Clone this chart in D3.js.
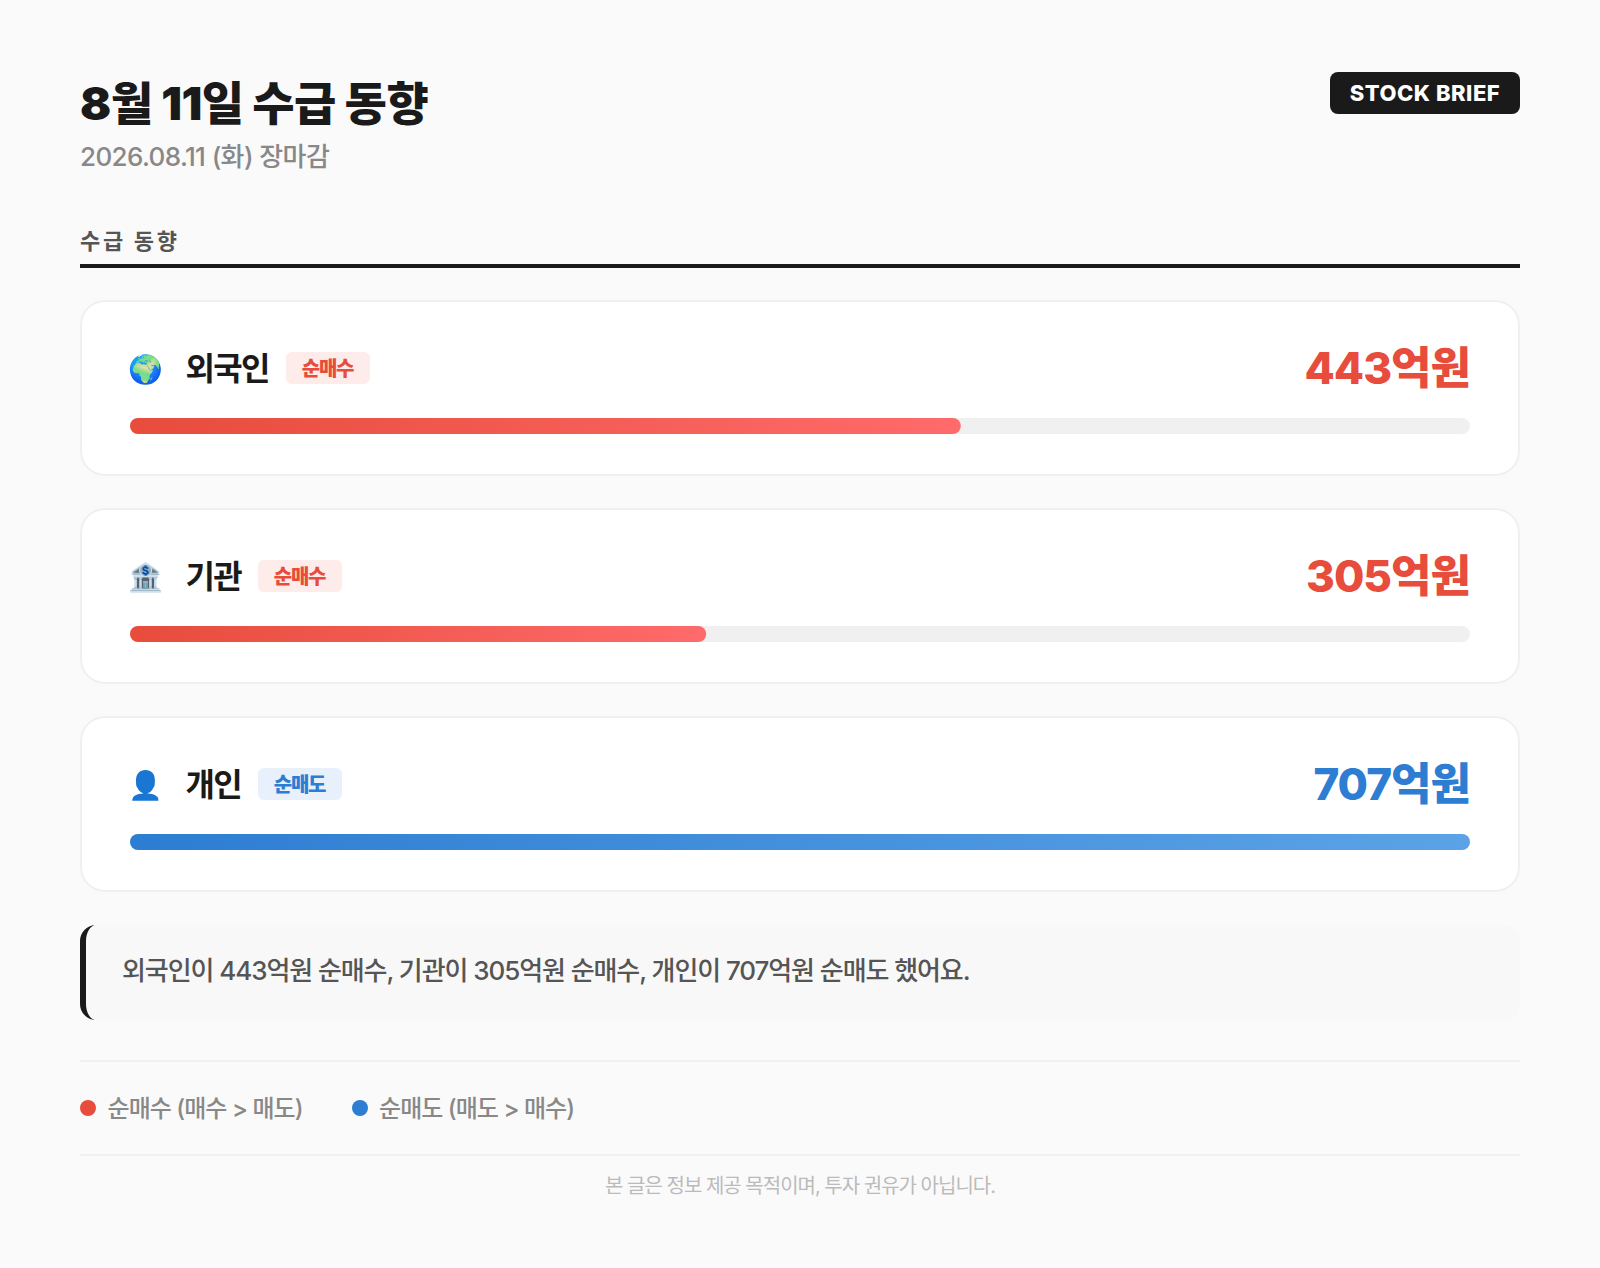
<!DOCTYPE html>
<html><head><meta charset="utf-8">
<script src="https://cdn.jsdelivr.net/npm/d3@7"></script>
<style>html,body{margin:0;padding:0;background:#fafafa}svg{display:block}text{font-family:Inter,"Noto Sans CJK KR",sans-serif}</style>
</head><body><div id="c"></div>
<script>
const categories=["외국인","기관","개인"];
const values=[443,305,707];
const barShares=[62,43,100];
const statuses=["순매수","순매수","순매도"];
const icons=["🌍","🏦","👤"];
const W=1600,H=1268,colors={buy:"#e74c3c",sell:"#2d7dd2"};
const svg=d3.select("#c").append("svg").attr("width",W).attr("height",H);
svg.append("rect").attr("width",W).attr("height",H).attr("fill","#fafafa");
const defs=svg.append("defs");
const g1=defs.append("linearGradient").attr("id","gb");g1.append("stop").attr("offset",0).attr("stop-color","#e74c3c");g1.append("stop").attr("offset",1).attr("stop-color","#ff6b6b");
const g2=defs.append("linearGradient").attr("id","gs");g2.append("stop").attr("offset",0).attr("stop-color","#2d7dd2");g2.append("stop").attr("offset",1).attr("stop-color","#5ba3e6");
const T=(x,y,t,s,w,c,a)=>svg.append("text").attr("x",x).attr("y",y).text(t).attr("font-size",s).attr("font-weight",w).attr("fill",c).attr("text-anchor",a||"start");
T(80,120,"8월 11일 수급 동향",46,900,"#1a1a1a").attr("letter-spacing",-.5);
T(80,166,"2026.08.11 (화) 장마감",26,500,"#888").attr("letter-spacing",-.6);
svg.append("rect").attr("x",1330).attr("y",72).attr("width",190).attr("height",42).attr("rx",8).attr("fill","#1a1a1a");
T(1425,101,"STOCK BRIEF",22,800,"#fff","middle").attr("letter-spacing",.5);
T(80,249,"수급 동향",22,700,"#555").attr("letter-spacing",2.7);
svg.append("rect").attr("x",80).attr("y",264).attr("width",1440).attr("height",4).attr("fill","#1a1a1a");
const x=d3.scaleLinear().domain([0,100]).range([0,1340]);
categories.forEach((c,i)=>{
 const y=301+208*i,buy=statuses[i]==="순매수",col=buy?colors.buy:colors.sell;
 svg.append("rect").attr("x",81).attr("y",y).attr("width",1438).attr("height",174).attr("rx",24).attr("fill","#fff").attr("stroke","#f0f0f0").attr("stroke-width",2);
 T(128,y+78,icons[i],28,400,"#000").style("font-family","'Noto Color Emoji',sans-serif");
 const nm=T(185.5,y+79,c,32,700,"#1a1a1a").attr("letter-spacing",-1.7);
 const nw=nm.node().getComputedTextLength();
 const bx=Math.round(185.5+nw+17);
 svg.append("rect").attr("x",bx).attr("y",y+51).attr("width",84).attr("height",32).attr("rx",6).attr("fill",buy?"#fdecea":"#e8f1fb");
 T(bx+41.5,y+75,statuses[i],20,900,col,"middle").attr("letter-spacing",-1.2);
 T(1470,y+83,values[i]+"억원",44,800,col,"end").attr("letter-spacing",-1);
 svg.append("rect").attr("x",130).attr("y",y+117).attr("width",1340).attr("height",16).attr("rx",8).attr("fill","#f0f0f0");
 svg.append("rect").attr("x",130).attr("y",y+117).attr("width",x(barShares[i])).attr("height",16).attr("rx",8).attr("fill",buy?"url(#gb)":"url(#gs)");
});
svg.append("path").attr("d","M96 925 A16 16 0 0 0 80 941 V1004 A16 16 0 0 0 96 1020 H1506 A14 14 0 0 0 1520 1006 V939 A14 14 0 0 0 1506 925 Z").attr("fill","#f8f8f8");
svg.append("path").attr("d","M96 925 A16 16 0 0 0 80 941 V1004 A16 16 0 0 0 96 1020 A10 16 0 0 1 86 1004 V941 A10 16 0 0 1 96 925 Z").attr("fill","#1a1a1a");
T(122,980,`${categories[0]}이 ${values[0]}억원 ${statuses[0]}, ${categories[1]}이 ${values[1]}억원 ${statuses[1]}, ${categories[2]}이 ${values[2]}억원 ${statuses[2]} 했어요.`,26,500,"#555").attr("letter-spacing",-1.08);
svg.append("rect").attr("x",80).attr("y",1060).attr("width",1440).attr("height",2).attr("fill","#f0f0f0");
svg.append("circle").attr("cx",88).attr("cy",1108).attr("r",8).attr("fill",colors.buy);
T(107.5,1117,"순매수 (매수 > 매도)",24,500,"#888").attr("letter-spacing",-.95);
svg.append("circle").attr("cx",360).attr("cy",1108).attr("r",8).attr("fill",colors.sell);
T(379,1117,"순매도 (매도 > 매수)",24,500,"#888").attr("letter-spacing",-.95);
svg.append("rect").attr("x",80).attr("y",1154).attr("width",1440).attr("height",2).attr("fill","#f0f0f0");
T(800,1193,"본 글은 정보 제공 목적이며, 투자 권유가 아닙니다.",20,400,"#bbb","middle").attr("letter-spacing",-1);
</script></body></html>
